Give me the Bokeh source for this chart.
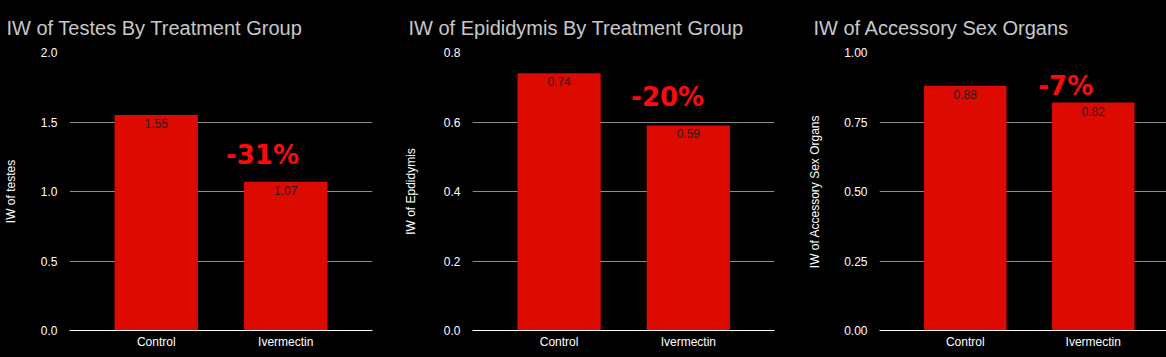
from bokeh.plotting import figure
from bokeh.layouts import row
from bokeh.models import (ColumnDataSource, FixedTicker, Label, NumeralTickFormatter, Range1d,
                          InlineStyleSheet)
from bokeh.core.properties import value
from bokeh.embed import file_html
from bokeh.resources import INLINE

# ---- data ----
categories = ["Control", "Ivermectin"]
testes = [1.55, 1.07]
epididymis = [0.74, 0.59]
accessory = [0.88, 0.82]
changes = ["-31%", "-20%", "-7%"]
titles = ["IW of Testes By Treatment Group",
          "IW of Epididymis By Treatment Group",
          "IW of Accessory Sex Organs"]
ylabels = ["IW of testes", "IW of Epdidymis", "IW of Accessory Sex Organs"]
yticks_testes = [0.0, 0.5, 1.0, 1.5, 2.0]
yticks_epi = [0.0, 0.2, 0.4, 0.6, 0.8]
yticks_acc = [0.0, 0.25, 0.5, 0.75, 1.0]

BG = "#000000"
BAR = "#dc0a00"
FONT = "Liberation Sans"
HIDE = InlineStyleSheet(css=":host { overflow: hidden !important; }")


def panel(title, ylabel, vals, yticks, fmt, change, cx, cy, width, left, right,
          xend, title_offset, lab_standoff):
    idx = list(range(len(categories)))
    p = figure(width=width, height=357, output_backend="svg", toolbar_location=None,
               x_range=Range1d(-0.67, xend), y_range=Range1d(0, yticks[-1]),
               min_border_left=left, min_border_right=right,
               min_border_top=52, min_border_bottom=27,
               stylesheets=[HIDE])
    p.background_fill_color = BG
    p.border_fill_color = BG
    p.outline_line_color = None

    p.title.text = title
    p.title.text_font = FONT
    p.title.text_font_size = "20px"
    p.title.text_font_style = "normal"
    p.title.text_color = "#c8c8c8"
    p.title.align = "left"
    p.title.offset = title_offset
    p.title.standoff = 28

    src = ColumnDataSource(dict(x=idx, top=vals, lab=[f"{v:.2f}" for v in vals]))
    p.vbar(x="x", top="top", bottom=0, width=0.644, source=src,
           fill_color=BAR, line_color=None)
    p.text(x="x", y="top", text="lab", source=src, text_align="center",
           text_baseline="top", y_offset=4, text_font=value(FONT),
           text_font_size="12px", text_color="#1e1e1e")

    lbl = Label(x=cx, y=cy, text=change, text_align="center", text_baseline="middle",
                text_font="DejaVu Sans", text_font_style="bold",
                text_font_size="26px", text_color="#ff0a0a")
    p.add_layout(lbl)

    # x axis
    p.xaxis.ticker = FixedTicker(ticks=idx)
    p.xaxis.major_label_overrides = {i: c for i, c in enumerate(categories)}
    p.xaxis.axis_line_color = "#ffffff"
    p.xaxis.axis_line_width = 1
    p.xaxis.major_tick_line_color = None
    p.xaxis.major_tick_out = 0
    p.xaxis.major_tick_in = 0
    p.xaxis.minor_tick_line_color = None
    p.xaxis.major_label_text_color = "#ffffff"
    p.xaxis.major_label_text_font = FONT
    p.xaxis.major_label_text_font_size = "12px"
    p.xaxis.major_label_standoff = 4
    p.xgrid.grid_line_color = None

    # y axis
    p.yaxis.ticker = FixedTicker(ticks=yticks)
    p.yaxis.formatter = NumeralTickFormatter(format=fmt)
    p.yaxis.axis_line_color = None
    p.yaxis.major_tick_line_color = None
    p.yaxis.minor_tick_line_color = None
    p.yaxis.major_label_text_color = "#ffffff"
    p.yaxis.major_label_text_font = FONT
    p.yaxis.major_label_text_font_size = "12px"
    p.yaxis.major_label_standoff = 6
    p.yaxis.axis_label = ylabel
    p.yaxis.axis_label_text_font = FONT
    p.yaxis.axis_label_text_font_size = "12px"
    p.yaxis.axis_label_text_font_style = "normal"
    p.yaxis.axis_label_text_color = "#ffffff"
    p.yaxis.axis_label_standoff = lab_standoff
    p.ygrid.ticker = FixedTicker(ticks=yticks)
    p.ygrid.grid_line_color = "#8c8c8c"
    p.ygrid.grid_line_width = 1
    return p


p1 = panel(titles[0], ylabels[0], testes, yticks_testes, "0.0", changes[0],
           0.82, 1.26, 400, 62, 28, 1.67, -63, 20)
p2 = panel(titles[1], ylabels[1], epididymis, yticks_epi, "0.0", changes[1],
           0.84, 0.673, 405, 66, 31, 1.667, -64, 23)
p3 = panel(titles[2], ylabels[2], accessory, yticks_acc, "0.00", changes[2],
           0.785, 0.878, 361, 66, 0, 1.572, -66, 19)

layout = row(p1, p2, p3, spacing=0, stylesheets=[HIDE])
html = file_html(layout, INLINE)
html = html.replace(
    "</head>",
    "<style>html,body{margin:0;padding:0;background:#000000;overflow:hidden;}</style></head>")
open("out.html", "w").write(html)
